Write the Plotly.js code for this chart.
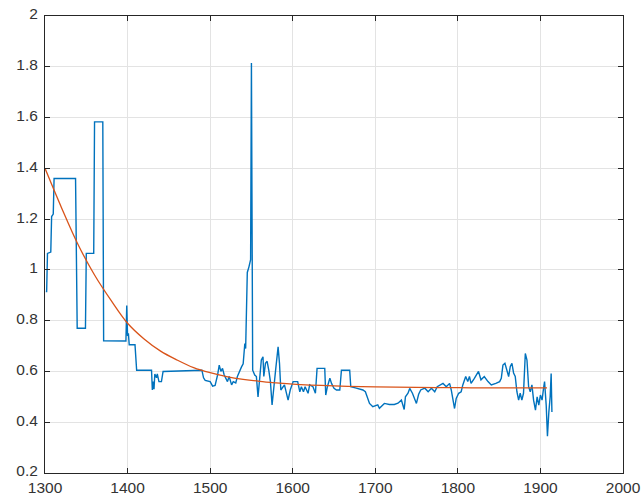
<!DOCTYPE html>
<html>
<head>
<meta charset="utf-8">
<script src="https://cdn.plot.ly/plotly-3.0.1.min.js"></script>
<style>
html,body{margin:0;padding:0;background:#fff;}
#chart{width:642px;height:504px;}
</style>
</head>
<body>
<div id="chart"></div>
<script>
// Measured series (blue)
const dataYears = [1301,1302,1303,1307,1308,1310,1311,1336,1337,1339,1349,1350,1359,1360,1370,1371,1397,1398,1399,1400,1401,1402,1409,1411,1429,1430,1431,1432,1433,1435,1436,1438,1441,1443,1490,1492,1494,1500,1503,1506,1509,1511,1513,1515,1517,1521,1523,1526,1528,1531,1533,1536,1538,1540,1542,1543,1545,1547,1549,1550,1551.5,1554,1556,1558,1560,1562,1564,1565,1567,1569,1571,1573,1575,1577,1579.5,1582.3,1584,1585.6,1588,1590,1594.4,1597,1600.5,1602,1606,1608.6,1610.5,1613,1615,1618.6,1620.5,1624.5,1627.5,1629.5,1638.8,1640,1642,1645,1647,1650,1653,1657,1659,1669,1670.3,1677,1685,1688,1690,1693,1697,1703,1705,1711,1717,1723,1727.5,1731.6,1735,1736.5,1739.6,1741.7,1745,1749.8,1752.5,1755,1760,1764,1768,1772,1775,1778,1782,1786,1790,1792,1795,1796,1798,1801,1804,1806,1809.5,1812,1814,1816,1820,1825,1828,1832,1836.5,1840.5,1846,1850.6,1852.6,1854.6,1857,1859.4,1861.5,1863.5,1865.5,1867.5,1869.5,1871.5,1873.6,1875.5,1877.5,1879.5,1881.7,1883.7,1885.7,1887.7,1889.7,1891.7,1894,1896,1898,1900,1902,1903.8,1905,1907,1908.5,1910.2,1911.8,1913,1913.9];
const dataValues = [0.915,0.915,1.065,1.07,1.21,1.22,1.36,1.36,1.36,0.77,0.77,1.065,1.065,1.583,1.583,0.721,0.721,0.72,0.86,0.74,0.75,0.705,0.705,0.605,0.605,0.527,0.56,0.53,0.59,0.575,0.59,0.56,0.56,0.6,0.605,0.575,0.565,0.56,0.542,0.545,0.586,0.625,0.6,0.612,0.586,0.56,0.58,0.547,0.56,0.555,0.58,0.605,0.618,0.63,0.71,0.69,0.99,1.012,1.04,1.815,0.605,0.586,0.58,0.5,0.58,0.645,0.658,0.58,0.632,0.64,0.605,0.56,0.468,0.54,0.612,0.697,0.632,0.527,0.54,0.547,0.487,0.527,0.56,0.56,0.56,0.52,0.54,0.52,0.54,0.514,0.547,0.54,0.514,0.612,0.612,0.507,0.54,0.573,0.553,0.534,0.527,0.527,0.605,0.605,0.54,0.534,0.527,0.52,0.5,0.474,0.461,0.468,0.455,0.474,0.47,0.47,0.475,0.487,0.45,0.5,0.514,0.533,0.514,0.474,0.51,0.527,0.534,0.52,0.534,0.52,0.54,0.547,0.553,0.54,0.553,0.527,0.48,0.454,0.494,0.514,0.52,0.547,0.58,0.56,0.58,0.553,0.573,0.6,0.567,0.58,0.56,0.547,0.553,0.56,0.573,0.625,0.632,0.6,0.58,0.62,0.632,0.594,0.58,0.52,0.487,0.514,0.487,0.514,0.671,0.645,0.54,0.52,0.547,0.487,0.448,0.5,0.467,0.507,0.487,0.534,0.56,0.467,0.345,0.44,0.5,0.592,0.44];

// Fitted curve (orange)
const fitYears = [1300,1320,1340,1360,1380,1400,1420,1440,1460,1480,1500,1520,1540,1560,1580,1600,1650,1700,1750,1800,1850,1908];
const fitValues = [1.4,1.245,1.1,0.98,0.88,0.79,0.728,0.68,0.645,0.615,0.595,0.58,0.569,0.561,0.555,0.55,0.543,0.539,0.537,0.536,0.535,0.535];

const xTicks = [1300,1400,1500,1600,1700,1800,1900,2000];
const yTicks = [0.2,0.4,0.6,0.8,1,1.2,1.4,1.6,1.8,2];
const yTickText = ['0.2','0.4','0.6','0.8','1','1.2','1.4','1.6','1.8','2'];

const traces = [
  {x: dataYears, y: dataValues, type: 'scatter', mode: 'lines',
   line: {color: '#0072BD', width: 1.4}, hoverinfo: 'skip'},
  {x: fitYears, y: fitValues, type: 'scatter', mode: 'lines',
   line: {color: '#D95319', width: 1.3, shape: 'spline', smoothing: 1.0}, hoverinfo: 'skip'}
];

const axisCommon = {
  showline: true, linecolor: '#262626', linewidth: 1, mirror: 'ticks',
  ticks: 'inside', ticklen: 5, tickcolor: '#262626', tickwidth: 1,
  showgrid: true, gridcolor: '#e3e3e3', gridwidth: 1, zeroline: false,
  tickfont: {family: 'Liberation Sans, Arial, sans-serif', size: 15.5, color: '#333333'}
};

const layout = {
  width: 642, height: 504,
  margin: {l: 45, r: 18.5, t: 15.5, b: 31},
  paper_bgcolor: '#ffffff', plot_bgcolor: '#ffffff',
  showlegend: false,
  xaxis: Object.assign({}, axisCommon, {range: [1300, 2000], tickvals: xTicks, ticktext: xTicks.map(String)}),
  yaxis: Object.assign({}, axisCommon, {range: [0.2, 2], tickvals: yTicks, ticktext: yTickText,
    ticklabelstandoff: 3, ticklabelshift: -2})
};

Plotly.newPlot('chart', traces, layout, {staticPlot: true, displayModeBar: false});
</script>
</body>
</html>
